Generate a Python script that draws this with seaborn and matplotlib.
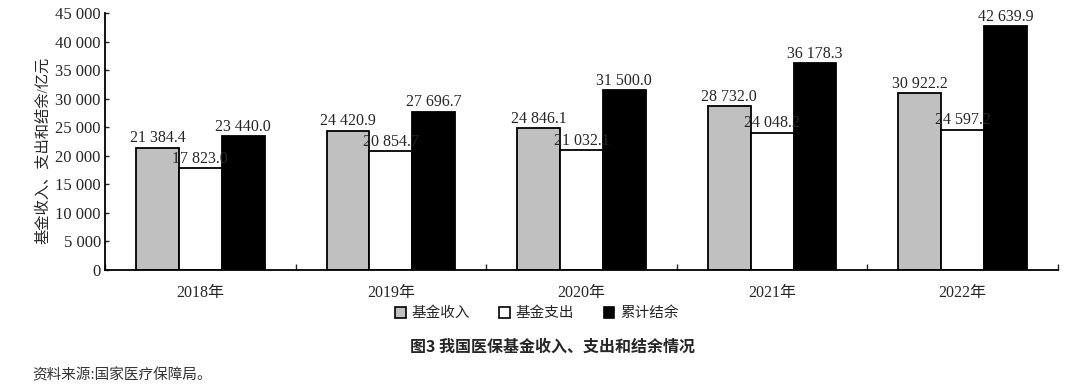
import numpy as np
import pandas as pd
import seaborn as sns
import matplotlib.pyplot as plt
from matplotlib.patches import Patch

# 数据（亿元）
years = ["2018年", "2019年", "2020年", "2021年", "2022年"]
series = ["基金收入", "基金支出", "累计结余"]
income = [21384.4, 24420.9, 24846.1, 28732.0, 30922.2]
expense = [17823.0, 20854.7, 21032.1, 24048.2, 24597.2]
balance = [23440.0, 27696.7, 31500.0, 36178.3, 42639.9]
colors = ["#c0c0c0", "#ffffff", "#000000"]

df = pd.DataFrame({
    "year": years * 3,
    "series": [s for s in series for _ in years],
    "value": income + expense + balance,
})

sns.set_style("ticks")
fam = ["Liberation Serif", "Noto Sans CJK SC", "DejaVu Sans"]
plt.rcParams["font.family"] = fam
plt.rcParams["axes.unicode_minus"] = False

def fmt(v, dec=1):
    return f"{v:,.{dec}f}".replace(",", " ")

fig = plt.figure(figsize=(10.8, 3.87), dpi=100)
ax = fig.add_axes([0.0972, 0.3023, 0.8824, 0.6641])

sns.barplot(data=df, x="year", y="value", hue="series", hue_order=series,
            palette=colors, width=0.675, edgecolor="black", linewidth=1.3,
            saturation=1, ax=ax, legend=False)

for cont, vals in zip(ax.containers, [income, expense, balance]):
    ax.bar_label(cont, labels=[fmt(v) for v in vals], padding=1, fontsize=11.5,
                 family=fam)

ax.set_ylim(0, 45000)
ax.set_xlim(-0.5, 4.5)
ax.set_yticks(np.arange(0, 45001, 5000))
ax.set_yticklabels([fmt(v, 0) for v in np.arange(0, 45001, 5000)], fontsize=12)
ax.tick_params(axis="y", direction="in", length=3, width=1, pad=3)
ax.tick_params(axis="x", length=0, labelsize=11.5, pad=11)
ax.set_xticks(np.arange(-0.5, 5, 1), minor=True)
ax.tick_params(axis="x", which="minor", direction="in", length=4, width=1)
ax.set_xlabel("")
ax.set_ylabel("基金收入、支出和结余/亿元", fontsize=11)
ax.yaxis.set_label_coords(-0.058, 0.467)

for s in ["top", "right"]:
    ax.spines[s].set_visible(False)
for s in ["left", "bottom"]:
    ax.spines[s].set_linewidth(1.3)
    ax.spines[s].set_color("black")

handles = [Patch(facecolor=c, edgecolor="black", linewidth=1.2) for c in colors]
fig.legend(handles, series, loc="center", bbox_to_anchor=(0.497, 0.19), ncol=3,
           frameon=False, fontsize=10.5, handlelength=0.75, handleheight=0.75,
           handletextpad=0.4, columnspacing=2.0)

fig.text(0.512, 0.105, "图3 我国医保基金收入、支出和结余情况", ha="center", va="center",
         fontsize=11.5, fontweight="bold", family=["Noto Sans CJK SC", "DejaVu Sans"])
fig.text(0.03, 0.03, "资料来源:国家医疗保障局。", ha="left", va="center",
         fontsize=10.5, family=["Noto Sans CJK SC", "DejaVu Sans"], color="#333333")

fig.savefig("out.png", dpi=100)
